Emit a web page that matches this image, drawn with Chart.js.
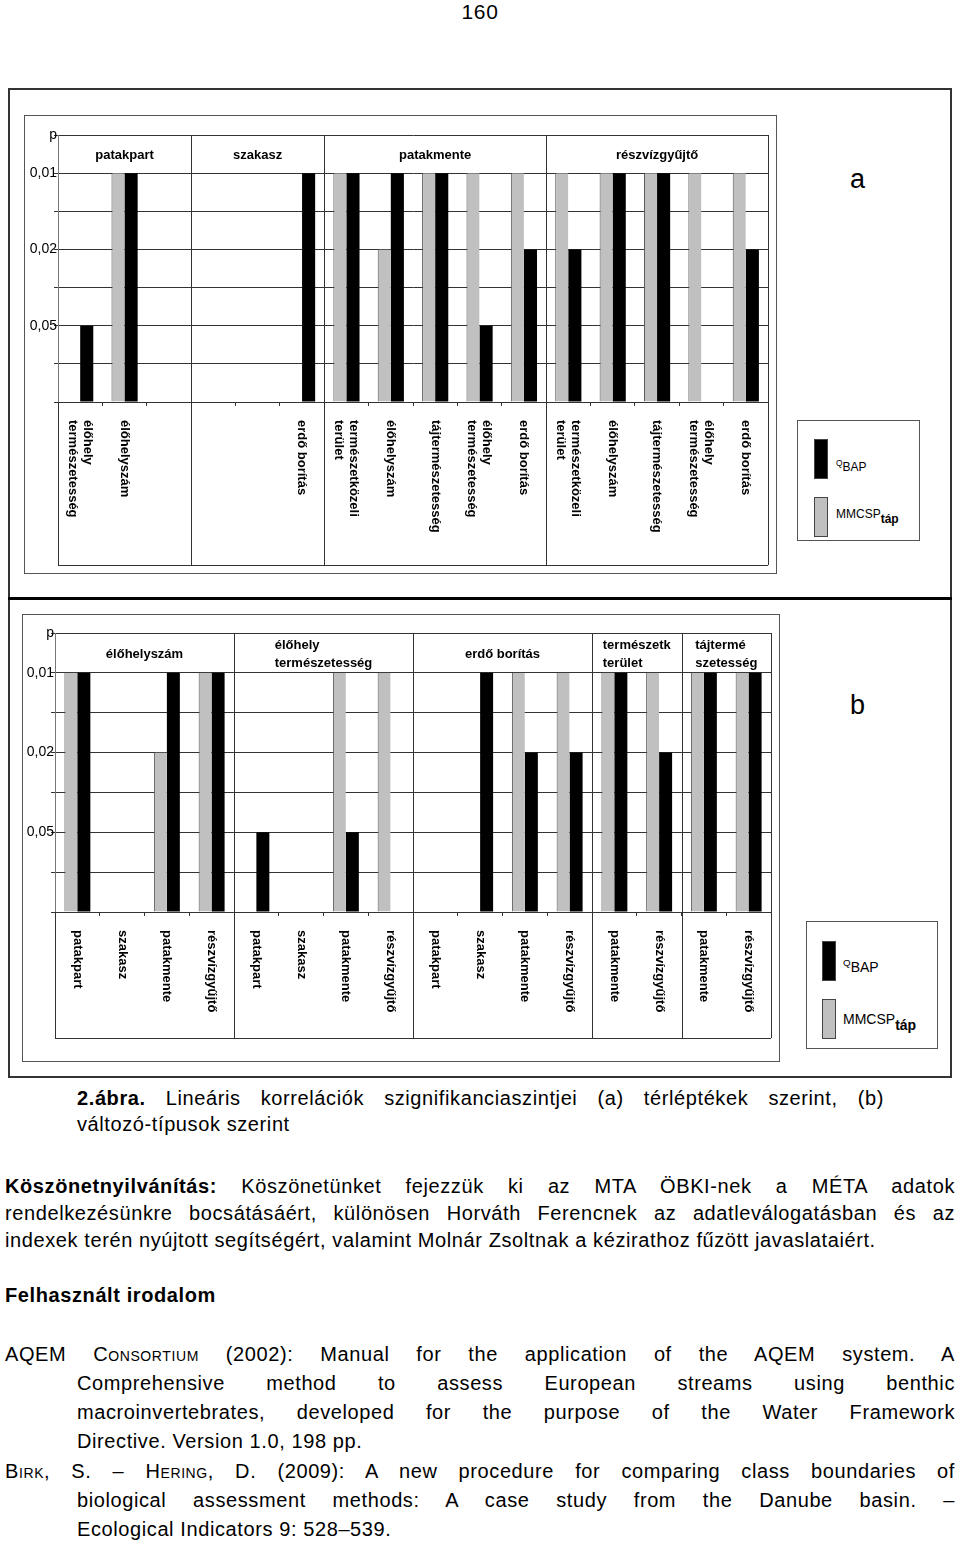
<!DOCTYPE html>
<html>
<head>
<meta charset="utf-8">
<script src="https://cdn.jsdelivr.net/npm/chart.js@4.4.0/dist/chart.umd.min.js"></script>
<style>
body{margin:0;background:#fff;font-family:"Liberation Sans",Arial,sans-serif;color:#000;}
#page{position:relative;width:960px;height:1548px;overflow:hidden;}
.box{position:absolute;box-sizing:border-box;}
.ln{position:absolute;font-size:20px;line-height:26px;letter-spacing:0.6px;white-space:normal;}
.j{text-align:justify;text-align-last:justify;}
.sc{font-variant:small-caps;}
.legend{position:absolute;box-sizing:border-box;border:1px solid #555;background:#fff;}
.sw{position:absolute;box-sizing:border-box;}
.lt{position:absolute;white-space:nowrap;}
canvas{position:absolute;}
</style>
</head>
<body>
<div id="page">
  <div class="ln" style="left:0;width:960px;top:-1px;text-align:center;font-size:21px;">160</div>

  <div class="box" style="left:8px;top:88px;width:944px;height:990px;border:2px solid #333;"></div>
  <div class="box" style="left:24px;top:115px;width:753px;height:459px;border:1px solid #555;"></div>
  <div class="box" style="left:8px;top:597px;width:944px;height:3px;background:#000;"></div>
  <div class="box" style="left:22px;top:614px;width:758px;height:448px;border:1px solid #555;"></div>

  <canvas id="chartA" width="751" height="457" style="left:25px;top:116px;"></canvas>
  <canvas id="chartB" width="756" height="446" style="left:23px;top:615px;"></canvas>

  <div class="ln" style="left:850px;top:164px;font-size:27px;line-height:30px;">a</div>
  <div class="ln" style="left:850px;top:690px;font-size:27px;line-height:30px;">b</div>

  <div id="legA" class="legend" style="left:797px;top:420px;width:123px;height:121px;"></div>
  <div id="legB" class="legend" style="left:806px;top:921px;width:132px;height:128px;"></div>

  <div class="ln j" style="left:77px;top:1085px;width:807px;"><b>2.ábra.</b> Lineáris korrelációk szignifikanciaszintjei (a) térléptékek szerint, (b)</div>
  <div class="ln" style="left:77px;top:1111px;width:807px;">változó-típusok szerint</div>

  <div class="ln j" style="left:5px;top:1173px;width:950px;"><b>Köszönetnyilvánítás:</b> Köszönetünket fejezzük ki az MTA ÖBKI-nek a MÉTA adatok</div>
  <div class="ln j" style="left:5px;top:1200px;width:950px;">rendelkezésünkre bocsátásáért, különösen Horváth Ferencnek az adatleválogatásban és az</div>
  <div class="ln" style="left:5px;top:1227px;width:950px;">indexek terén nyújtott segítségért, valamint Molnár Zsoltnak a kézirathoz fűzött javaslataiért.</div>

  <div class="ln" style="left:5px;top:1282px;width:950px;"><b>Felhasznált irodalom</b></div>

  <div class="ln j" style="left:5px;top:1341px;width:950px;">AQEM C<span class="sc">onsortium</span> (2002): Manual for the application of the AQEM system. A</div>
  <div class="ln j" style="left:77px;top:1370px;width:878px;">Comprehensive method to assess European streams using benthic</div>
  <div class="ln j" style="left:77px;top:1399px;width:878px;">macroinvertebrates, developed for the purpose of the Water Framework</div>
  <div class="ln" style="left:77px;top:1428px;width:878px;">Directive. Version 1.0, 198 pp.</div>
  <div class="ln j" style="left:5px;top:1458px;width:950px;">B<span class="sc">irk</span>, S. – H<span class="sc">ering</span>, D. (2009): A new procedure for comparing class boundaries of</div>
  <div class="ln j" style="left:77px;top:1487px;width:878px;">biological assessment methods: A case study from the Danube basin. –</div>
  <div class="ln" style="left:77px;top:1516px;width:878px;">Ecological Indicators 9: 528–539.</div>
</div>

<script>
// significance levels on the y axis (bottom to top), with the "p" title on top
const pValues = [0.05, 0.02, 0.01];
const pTicks = ['0,05', '0,02', '0,01'];
const pTitle = 'p';

// (a) térléptékek szerint
const groupsA = [['patakpart'], ['szakasz'], ['patakmente'], ['részvízgyűjtő']];
const groupSizeA = [3, 3, 5, 5];
const catsA = [
  ['élőhely', 'természetesség'], ['élőhelyszám'], [''],
  [''], [''], ['erdő borítás'],
  ['természetközeli', 'terület'], ['élőhelyszám'], ['tájtermészetesség'], ['élőhely', 'természetesség'], ['erdő borítás'],
  ['természetközeli', 'terület'], ['élőhelyszám'], ['tájtermészetesség'], ['élőhely', 'természetesség'], ['erdő borítás']
];
const mmcspA = [null, 0.01, null,  null, null, null,  0.01, 0.02, 0.01, 0.01, 0.01,  0.01, 0.01, 0.01, 0.01, 0.01];
const qbapA  = [0.05, 0.01, null,  null, null, 0.01,  0.01, 0.01, 0.01, 0.05, 0.02,  0.02, 0.01, 0.01, null, 0.02];

// (b) változó-típusok szerint
const groupsB = [['élőhelyszám'], ['élőhely', 'természetesség'], ['erdő borítás'], ['természetk', 'terület'], ['tájtermé', 'szetesség']];
const groupSizeB = [4, 4, 4, 2, 2];
const catsB = [
  ['patakpart'], ['szakasz'], ['patakmente'], ['részvízgyűjtő'],
  ['patakpart'], ['szakasz'], ['patakmente'], ['részvízgyűjtő'],
  ['patakpart'], ['szakasz'], ['patakmente'], ['részvízgyűjtő'],
  ['patakmente'], ['részvízgyűjtő'],
  ['patakmente'], ['részvízgyűjtő']
];
const mmcspB = [0.01, null, 0.02, 0.01,  null, null, 0.01, 0.01,  null, null, 0.01, 0.01,  0.01, 0.01,  0.01, 0.01];
const qbapB  = [0.01, null, 0.01, 0.01,  0.05, null, 0.05, null,  null, 0.01, 0.02, 0.02,  0.01, 0.02,  0.01, 0.01];

const GRAY = '#c0c0c0', BLACK = '#000000';
const FONT = '"Liberation Sans", Arial, sans-serif';

// p value -> y level (0,05 = 2, 0,02 = 4, 0,01 = 6, p title = 7)
const level = p => p == null ? null : (pValues.indexOf(p) + 1) * 2;
const tickText = {};
pValues.forEach((p, i) => { tickText[level(p)] = pTicks[i]; });
tickText[7] = pTitle;

const crisp = v => Math.round(v) + 0.5;

const extras = {
  id: 'extras',
  afterDraw(chart, args, o) {
    const ctx = chart.ctx, ca = chart.chartArea;
    const x = chart.scales.x, y = chart.scales.y;
    const n = x.getLabels().length;
    const w = (ca.right - ca.left) / n;
    const edge = i => x.getPixelForValue(i) - w / 2;
    const yTop = y.getPixelForValue(7), yRow = y.getPixelForValue(6);
    const line = (x0, y0, x1, y1) => {
      ctx.beginPath(); ctx.moveTo(x0, y0); ctx.lineTo(x1, y1); ctx.stroke();
    };
    ctx.save();
    ctx.strokeStyle = '#333';
    ctx.lineWidth = 1;
    ctx.fillStyle = '#000';
    ctx.font = 'bold 13px ' + FONT;

    // group separators and header labels
    let start = 0;
    o.sizes.forEach((s, g) => {
      const x0 = edge(start), x1 = edge(start + s);
      if (start > 0) line(crisp(x0), yTop, crisp(x0), o.tableBottom);
      const lines = o.groups[g];
      const bw = Math.max(...lines.map(t => ctx.measureText(t).width));
      const cx = (x0 + x1) / 2, cy = (yTop + yRow) / 2;
      ctx.textBaseline = 'middle';
      if (lines.length === 1) {
        ctx.textAlign = 'center';
        ctx.fillText(lines[0], cx, cy + 1);
      } else {
        ctx.textAlign = 'left';
        lines.forEach((t, k) => ctx.fillText(t, cx - bw / 2, cy + (k - 0.5) * 18 + 1));
      }
      start += s;
    });

    // label table frame
    line(crisp(ca.right), yTop, crisp(ca.right), o.tableBottom);
    line(crisp(ca.left), ca.bottom, crisp(ca.left), o.tableBottom);
    line(ca.left, crisp(o.tableBottom), ca.right, crisp(o.tableBottom));

    // rotated category labels (reading downwards)
    ctx.textAlign = 'left';
    ctx.textBaseline = 'middle';
    o.cats.forEach((lines, i) => {
      const cx = x.getPixelForValue(i);
      ctx.save();
      ctx.translate(cx, ca.bottom + 18);
      ctx.rotate(Math.PI / 2);
      lines.forEach((t, k) => ctx.fillText(t, 0, (k - (lines.length - 1) / 2) * 15));
      ctx.restore();
    });
    ctx.restore();
  }
};

function makeChart(id, cfg) {
  return new Chart(document.getElementById(id), {
    type: 'bar',
    data: {
      labels: cfg.cats.map(c => c.join(' ')),
      datasets: [
        {
          label: 'MMCSP táp', data: cfg.mmcsp.map(level),
          backgroundColor: GRAY, borderColor: '#555',
          borderWidth: {left: 1, top: 0, right: 0, bottom: 0}, borderSkipped: false,
          categoryPercentage: cfg.catPct, barPercentage: 1
        },
        {
          label: 'QBAP', data: cfg.qbap.map(level),
          backgroundColor: BLACK, borderWidth: 0,
          categoryPercentage: cfg.catPct, barPercentage: 1
        }
      ]
    },
    options: {
      responsive: false,
      animation: false,
      devicePixelRatio: 1,
      layout: {padding: cfg.pad},
      plugins: {
        legend: {display: false},
        tooltip: {enabled: false},
        extras: {groups: cfg.groups, sizes: cfg.sizes, cats: cfg.cats, tableBottom: cfg.tableBottom}
      },
      scales: {
        x: {
          ticks: {display: false},
          grid: {offset: true, drawOnChartArea: false, drawTicks: true, tickLength: 4, color: '#333'},
          border: {color: '#333'},
          afterFit: s => { s.height = cfg.xh; }
        },
        y: {
          min: 0, max: 7,
          ticks: {
            stepSize: 1, autoSkip: false,
            callback: v => tickText[v] || '',
            color: '#000', font: {family: FONT, size: 14},
            padding: -3
          },
          grid: {color: '#333', tickLength: 4},
          border: {color: '#777'},
          afterFit: s => { s.width = cfg.yw; }
        }
      }
    },
    plugins: [extras]
  });
}

makeChart('chartA', {
  groups: groupsA, sizes: groupSizeA, cats: catsA, mmcsp: mmcspA, qbap: qbapA,
  catPct: 0.59, pad: {top: 19, right: 8, left: 0, bottom: 0}, yw: 33, xh: 171, tableBottom: 449
});
makeChart('chartB', {
  groups: groupsB, sizes: groupSizeB, cats: catsB, mmcsp: mmcspB, qbap: qbapB,
  catPct: 0.58, pad: {top: 18, right: 8, left: 0, bottom: 0}, yw: 32, xh: 149, tableBottom: 423
});

// legends (outside the chart frames)
const series = [
  {color: BLACK, html: '<span style="font-size:0.7em;position:relative;top:-0.4em">Q</span><span style="position:relative;top:0.15em">BAP</span>'},
  {color: GRAY, html: '<span>MMCSP</span><span style="font-weight:bold;position:relative;top:0.45em">táp</span>'}
];
function legend(id, sx, ys, tys, tx, sh, fs) {
  const el = document.getElementById(id);
  series.forEach((s, i) => {
    const sw = document.createElement('div');
    sw.className = 'sw';
    sw.style.cssText = `left:${sx}px;top:${ys[i]}px;width:14px;height:${sh}px;background:${s.color};border:1px solid #444;`;
    el.appendChild(sw);
    const t = document.createElement('div');
    t.className = 'lt';
    t.style.cssText = `left:${tx}px;top:${tys[i]}px;font-size:${fs}px;`;
    t.innerHTML = s.html;
    el.appendChild(t);
  });
}
legend('legA', 16, [18, 76], [37, 86], 38, 40, 12);
legend('legB', 15, [19, 77], [35, 89], 36, 40, 14);
</script>
</body>
</html>
